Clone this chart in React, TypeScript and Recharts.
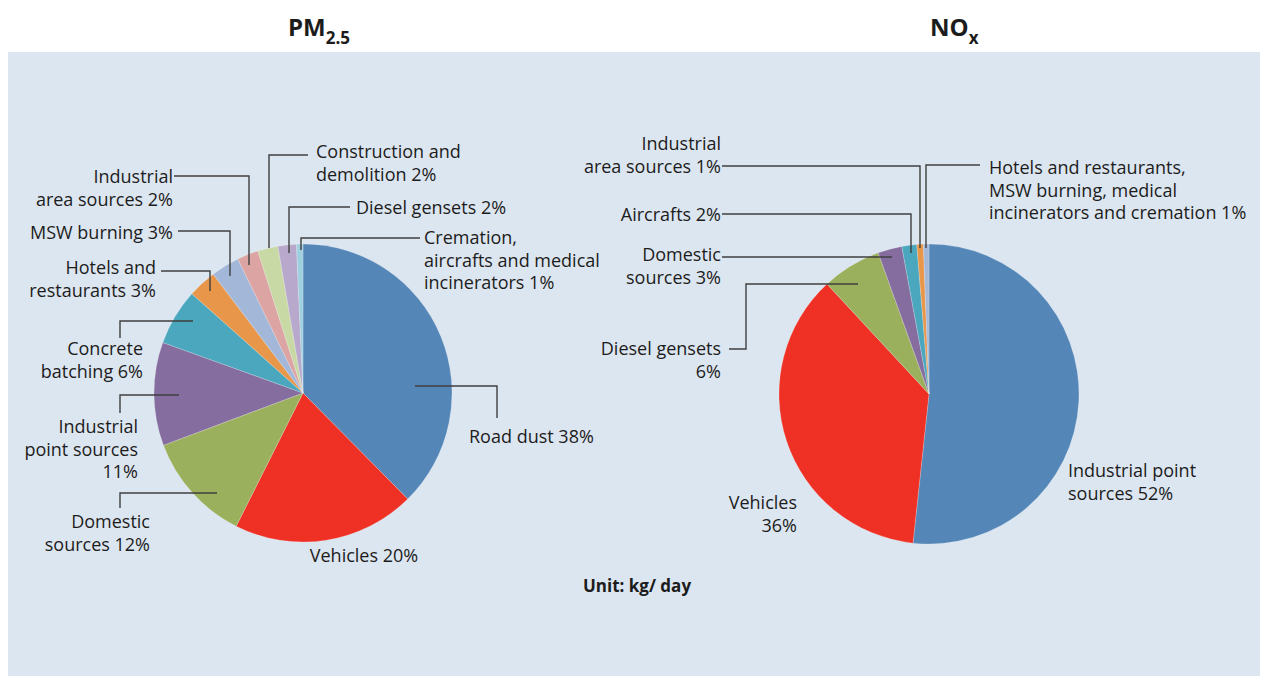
import { Cell, Pie, PieChart } from "recharts";

// PM2.5 shares (%), read clockwise from 12 o'clock
const pmSources = [
  "Road dust",
  "Vehicles",
  "Domestic\nsources",
  "Industrial\npoint sources\n",
  "Concrete\nbatching",
  "Hotels and\nrestaurants",
  "MSW burning",
  "Industrial\narea sources",
  "Construction and\ndemolition",
  "Diesel gensets",
  "Cremation,\naircrafts and medical\nincinerators",
];
const pmValues = [37.6, 19.8, 11.9, 11.2, 6.1, 3.1, 3.1, 2.3, 2.2, 2.0, 0.7];
const pmColors = [
  "#5486b8", "#ee3124", "#9bb05d", "#866d9f", "#4aa7bd", "#e8964a",
  "#a3b8d9", "#dca4a3", "#c9d9a6", "#b8a9cc", "#9fd0e0",
];

// NOx shares (%)
const noxSources = [
  "Industrial point\nsources",
  "Vehicles\n",
  "Diesel gensets\n",
  "Domestic\nsources",
  "Aircrafts",
  "Industrial\narea sources",
  "Hotels and restaurants,\nMSW burning, medical\nincinerators and cremation",
];
const noxValues = [51.7, 36.4, 6.4, 2.6, 1.6, 0.7, 0.6];
const noxColors = ["#5486b8", "#ee3124", "#9bb05d", "#866d9f", "#4aa7bd", "#e8964a", "#a3b8d9"];

const pmData = pmSources.map((name, i) => ({ name, value: pmValues[i] }));
const noxData = noxSources.map((name, i) => ({ name, value: noxValues[i] }));

type Spot = { anchor: "start" | "middle" | "end"; tx: number; ty: number; path?: number[][] };

// label placement relative to the pie centre
const pmSpots: Spot[] = [
  { anchor: "start", tx: 166, ty: 44, path: [[112, -7], [194, -7], [194, 25]] },
  { anchor: "middle", tx: 61, ty: 163 },
  { anchor: "end", tx: -153, ty: 129, path: [[-86, 100], [-183, 100], [-183, 115]] },
  { anchor: "end", tx: -165, ty: 34, path: [[-124, 2], [-183, 2], [-183, 20]] },
  { anchor: "end", tx: -160, ty: -44, path: [[-110, -72], [-183, -72], [-183, -55]] },
  { anchor: "end", tx: -147, ty: -125, path: [[-93, -102], [-93, -122], [-142, -122]] },
  { anchor: "end", tx: -130, ty: -160, path: [[-73, -117], [-73, -162], [-125, -162]] },
  { anchor: "end", tx: -130, ty: -216, path: [[-54, -128], [-54, -217], [-129, -217]] },
  { anchor: "start", tx: 13, ty: -241, path: [[-34, -145], [-34, -238], [5, -238]] },
  { anchor: "start", tx: 53, ty: -185, path: [[-14, -140], [-14, -186], [47, -186]] },
  { anchor: "start", tx: 121, ty: -155, path: [[-2, -143], [-2, -155], [117, -155]] },
];

const noxSpots: Spot[] = [
  { anchor: "start", tx: 139, ty: 77 },
  { anchor: "end", tx: -132, ty: 109 },
  { anchor: "end", tx: -208, ty: -45, path: [[-71, -110], [-183, -110], [-183, -45], [-200, -45]] },
  { anchor: "end", tx: -208, ty: -139, path: [[-37, -137], [-207, -137]] },
  { anchor: "end", tx: -208, ty: -179, path: [[-18, -141], [-18, -180], [-207, -180]] },
  { anchor: "end", tx: -208, ty: -250, path: [[-9, -146], [-9, -228], [-207, -228]] },
  { anchor: "start", tx: 60, ty: -226, path: [[-3, -146], [-3, -229], [51, -229]] },
];

const font = "'Open Sans', 'Noto Sans', sans-serif";
const lineH = 22.5;

function makeLabel(spots: Spot[]) {
  return (props: any) => {
    const { cx, cy, index, name, value } = props;
    const s = spots[index];
    if (!s) return null;
    const full = name + (name.endsWith("\n") ? "" : " ") + Math.round(value) + "%";
    const lines = full.split("\n");
    return (
      <g key={`lbl-${index}`}>
        {s.path ? (
          <polyline
            points={s.path.map(([x, y]) => `${cx + x},${cy + y}`).join(" ")}
            fill="none"
            stroke="#3f3f3f"
            strokeWidth={1.4}
          />
        ) : null}
        <text
          x={cx + s.tx}
          y={cy + s.ty + 6}
          textAnchor={s.anchor}
          fontFamily={font}
          fontSize={18}
          fill="#1c1c1c"
        >
          {lines.map((l: string, i: number) => (
            <tspan key={i} x={cx + s.tx} dy={i === 0 ? 0 : lineH}>
              {l}
            </tspan>
          ))}
        </text>
      </g>
    );
  };
}

export default function App() {
  const titleStyle: React.CSSProperties = {
    position: "absolute",
    top: 4,
    fontFamily: font,
    fontWeight: 700,
    fontSize: 24,
    color: "#1c1c1c",
    lineHeight: "30px",
    whiteSpace: "nowrap",
  };
  const subStyle: React.CSSProperties = { fontSize: 17, verticalAlign: -8 };

  return (
    <div style={{ position: "relative", width: 1260, height: 668 }}>
      <div style={{ ...titleStyle, left: 280 }}>
        PM<span style={subStyle}>2.5</span>
      </div>
      <div style={{ ...titleStyle, left: 922 }}>
        NO<span style={subStyle}>x</span>
      </div>
      <div style={{ position: "absolute", top: 44, left: 0, width: 1260, height: 624, background: "#dce6f0" }}>
        <PieChart width={1260} height={624} margin={{ top: 0, right: 0, bottom: 0, left: 0 }}>
          <Pie
            data={pmData}
            dataKey="value"
            nameKey="name"
            cx={295}
            cy={341}
            outerRadius={149}
            startAngle={90}
            endAngle={-270}
            stroke="#ffffff"
            strokeOpacity={0.35}
            strokeWidth={0.6}
            label={makeLabel(pmSpots)}
            labelLine={false}
            isAnimationActive={false}
          >
            {pmData.map((d, i) => (
              <Cell key={d.name} fill={pmColors[i]} />
            ))}
          </Pie>
          <Pie
            data={noxData}
            dataKey="value"
            nameKey="name"
            cx={921}
            cy={342}
            outerRadius={150}
            startAngle={90}
            endAngle={-270}
            stroke="#ffffff"
            strokeOpacity={0.35}
            strokeWidth={0.6}
            label={makeLabel(noxSpots)}
            labelLine={false}
            isAnimationActive={false}
          >
            {noxData.map((d, i) => (
              <Cell key={d.name} fill={noxColors[i]} />
            ))}
          </Pie>
          <text
            x={629}
            y={540}
            textAnchor="middle"
            fontFamily={font}
            fontWeight={700}
            fontSize={17}
            fill="#1c1c1c"
          >
            Unit: kg/ day
          </text>
        </PieChart>
      </div>
    </div>
  );
}
